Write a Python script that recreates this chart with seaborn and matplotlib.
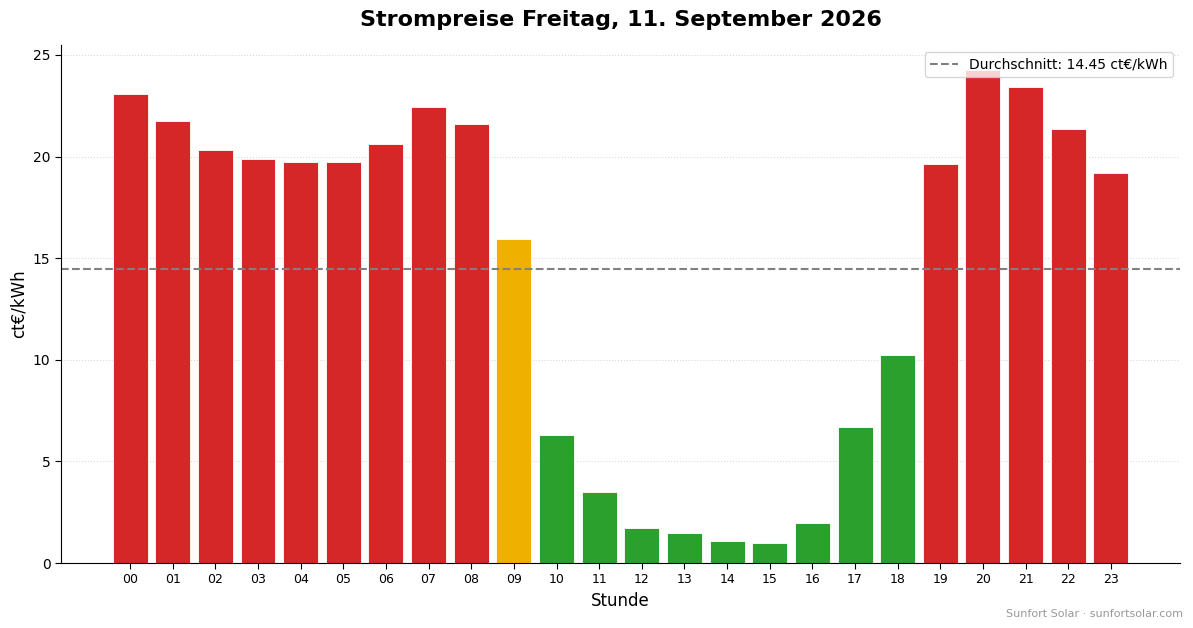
import matplotlib
matplotlib.use("Agg")
import matplotlib.pyplot as plt
import seaborn as sns
import pandas as pd

hours = ["00", "01", "02", "03", "04", "05", "06", "07", "08", "09", "10", "11",
         "12", "13", "14", "15", "16", "17", "18", "19", "20", "21", "22", "23"]
prices = [23.07, 21.74, 20.32, 19.87, 19.73, 19.73, 20.61, 22.43, 21.60, 15.94, 6.29, 3.48,
          1.71, 1.47, 1.07, 0.98, 1.96, 6.68, 10.23, 19.63, 24.28, 23.42, 21.35, 19.18]
levels = ["hoch"] * 9 + ["mittel"] + ["niedrig"] * 9 + ["hoch"] * 5
average = 14.45

level_colors = {"hoch": "#d62728", "mittel": "#f0b000", "niedrig": "#2ca02c"}

df = pd.DataFrame({"Stunde": hours, "Preis": prices, "Stufe": levels})

sns.set_style("white")
plt.rcParams['font.family'] = ['DejaVu Sans']
plt.rcParams['text.color'] = 'black'
plt.rcParams['axes.labelcolor'] = 'black'
plt.rcParams['xtick.color'] = 'black'
plt.rcParams['ytick.color'] = 'black'

fig = plt.figure(figsize=(11.93, 6.28), dpi=100)
ax = fig.add_axes([0.0511, 0.1035, 0.938, 0.8248])

sns.barplot(data=df, x="Stunde", y="Preis", hue="Stufe", palette=level_colors,
            dodge=False, width=0.82, edgecolor="white", linewidth=0.6,
            legend=False, ax=ax, saturation=1)

ax.axhline(average, color="#808080", linestyle="--", linewidth=1.5,
           label=f"Durchschnitt: {average:.2f} ct€/kWh")

ax.set_xlim(-1.62, 24.62)
ax.set_ylim(0, 25.49)
ax.set_yticks([0, 5, 10, 15, 20, 25])
ax.grid(axis="y", linestyle=":", color="#d9d9d9", linewidth=0.8)
ax.set_axisbelow(True)
for s in ["top", "right"]:
    ax.spines[s].set_visible(False)
ax.spines["left"].set_color("black")
ax.spines["bottom"].set_color("black")
ax.tick_params(axis="x", labelsize=9, length=4, color="black", bottom=True)
ax.tick_params(axis="y", labelsize=10, length=4, color="black", left=True)

ax.set_xlabel("Stunde", fontsize=12, color="black")
ax.set_ylabel("ct€/kWh", fontsize=12, color="black")
ax.set_title("Strompreise Freitag, 11. September 2026", fontsize=16,
             fontweight="bold", pad=14, color="black")
ax.legend(loc="upper right", fontsize=10, frameon=True)

fig.text(0.992, 0.015, "Sunfort Solar · sunfortsolar.com", ha="right", va="bottom",
         fontsize=8, color="#999999")

fig.savefig("out.png", dpi=100)
